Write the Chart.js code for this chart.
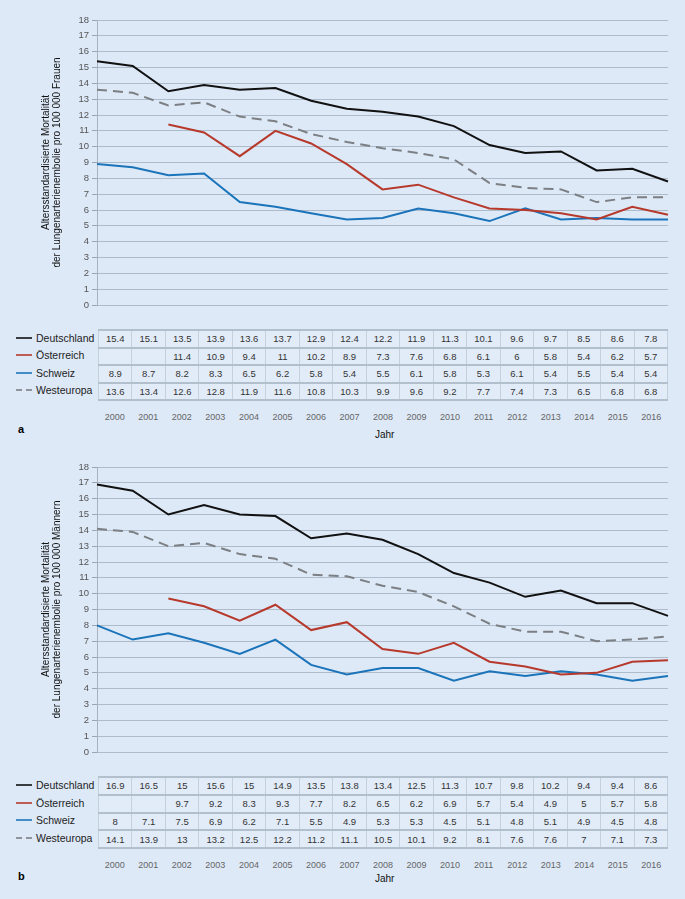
<!DOCTYPE html>
<html>
<head>
<meta charset="utf-8">
<script src="https://cdn.jsdelivr.net/npm/chart.js@4.4.0/dist/chart.umd.min.js"></script>
<style>
  body { margin: 0; background: #dde9f7; font-family: "Liberation Sans", Arial, sans-serif; }
  #page { position: relative; width: 685px; height: 899px; overflow: hidden; }
  canvas { position: absolute; left: 0; }
  .tbl { position: absolute; left: 98px; width: 570px; border-collapse: collapse; table-layout: fixed; }
  .tbl td { padding: 0; text-align: center; font-size: 9.5px; color: #333; background: #e2ecf8;
    border-left: 1px solid #c4d0dc; border-right: 1px solid #c4d0dc;
    border-top: 2px solid #b2bfcc; border-bottom: 2px solid #b2bfcc; }
  .years { position: absolute; left: 98px; width: 570px; display: flex; font-size: 9px; color: #666; }
  .years div { flex: 1; text-align: center; }
  .leg { position: absolute; left: 16px; height: 14px; line-height: 14px; font-size: 10.5px; color: #222; display: flex; align-items: center; }
  .leg span.s { display: inline-block; width: 16px; height: 0; margin-right: 4px; }
  .lbl { position: absolute; font-size: 10px; color: #111; }
  .letter { position: absolute; left: 18px; font-size: 11px; font-weight: bold; color: #000; }
</style>
</head>
<body>
<div id="page"></div>
<script>
const years = ['2000','2001','2002','2003','2004','2005','2006','2007','2008','2009','2010','2011','2012','2013','2014','2015','2016'];
const seriesNames = ['Deutschland', 'Österreich', 'Schweiz', 'Westeuropa'];
const yTicks = [0,1,2,3,4,5,6,7,8,9,10,11,12,13,14,15,16,17,18];

// a: Frauen
const frauenDeutschland = [15.4,15.1,13.5,13.9,13.6,13.7,12.9,12.4,12.2,11.9,11.3,10.1,9.6,9.7,8.5,8.6,7.8];
const frauenOesterreich = [null,null,11.4,10.9,9.4,11,10.2,8.9,7.3,7.6,6.8,6.1,6,5.8,5.4,6.2,5.7];
const frauenSchweiz = [8.9,8.7,8.2,8.3,6.5,6.2,5.8,5.4,5.5,6.1,5.8,5.3,6.1,5.4,5.5,5.4,5.4];
const frauenWesteuropa = [13.6,13.4,12.6,12.8,11.9,11.6,10.8,10.3,9.9,9.6,9.2,7.7,7.4,7.3,6.5,6.8,6.8];

// b: Männer
const maennerDeutschland = [16.9,16.5,15,15.6,15,14.9,13.5,13.8,13.4,12.5,11.3,10.7,9.8,10.2,9.4,9.4,8.6];
const maennerOesterreich = [null,null,9.7,9.2,8.3,9.3,7.7,8.2,6.5,6.2,6.9,5.7,5.4,4.9,5,5.7,5.8];
const maennerSchweiz = [8,7.1,7.5,6.9,6.2,7.1,5.5,4.9,5.3,5.3,4.5,5.1,4.8,5.1,4.9,4.5,4.8];
const maennerWesteuropa = [14.1,13.9,13,13.2,12.5,12.2,11.2,11.1,10.5,10.1,9.2,8.1,7.6,7.6,7,7.1,7.3];

const styles = [
  { color: '#111111', dash: [] },
  { color: '#b7392c', dash: [] },
  { color: '#1b74ba', dash: [] },
  { color: '#7c7f83', dash: [10, 6] },
];

const panels = [
  { letter: 'a', top: 0, tableTop: 329, rowH: 17.5, yearsY: 412, jahrY: 429, letterY: 423,
    title: ['Altersstandardisierte Mortalität', 'der Lungenarterienembolie pro 100 000 Frauen'],
    data: [frauenDeutschland, frauenOesterreich, frauenSchweiz, frauenWesteuropa] },
  { letter: 'b', top: 447, tableTop: 776, rowH: 17.75, yearsY: 860, jahrY: 873, letterY: 870,
    title: ['Altersstandardisierte Mortalität', 'der Lungenarterienembolie pro 100 000 Männern'],
    data: [maennerDeutschland, maennerOesterreich, maennerSchweiz, maennerWesteuropa] },
];

const page = document.getElementById('page');

panels.forEach(p => {
  const canvas = document.createElement('canvas');
  canvas.width = 685;
  canvas.height = 320;
  canvas.style.top = p.top + 'px';
  page.appendChild(canvas);

  new Chart(canvas.getContext('2d'), {
    type: 'line',
    data: {
      labels: years,
      datasets: p.data.map((d, i) => ({
        label: seriesNames[i],
        data: d,
        borderColor: styles[i].color,
        borderDash: styles[i].dash,
        borderWidth: 2,
        pointRadius: 0,
        tension: 0,
        fill: false,
        spanGaps: false,
      })),
    },
    options: {
      responsive: false,
      animation: false,
      layout: { padding: { left: 37, right: 17, top: 20, bottom: 15 } },
      plugins: { legend: { display: false }, tooltip: { enabled: false } },
      scales: {
        x: { display: false, offset: false },
        y: {
          min: 0,
          max: 18,
          afterFit: scale => { scale.width = 60; },
          afterBuildTicks: scale => { scale.ticks = yTicks.map(v => ({ value: v })); },
          ticks: { color: '#555', font: { family: 'Liberation Sans', size: 9.5 }, padding: 3 },
          grid: { color: '#adbbca', lineWidth: 1, tickLength: 5, tickColor: '#9aa6b2' },
          border: { color: '#a7b3bf', width: 1 },
          title: {
            display: true,
            text: p.title,
            color: '#111',
            font: { family: 'Liberation Sans', size: 10, lineHeight: 1.1 },
            padding: { top: 4, bottom: 4 },
          },
        },
      },
    },
  });

  // data table below the chart
  const tbl = document.createElement('table');
  tbl.className = 'tbl';
  tbl.style.top = p.tableTop + 'px';
  p.data.forEach(d => {
    const tr = document.createElement('tr');
    tr.style.height = p.rowH + 'px';
    d.forEach(v => {
      const td = document.createElement('td');
      td.textContent = v === null ? '' : String(v);
      tr.appendChild(td);
    });
    tbl.appendChild(tr);
  });
  page.appendChild(tbl);

  // legend keys in front of the rows
  seriesNames.forEach((name, i) => {
    const leg = document.createElement('div');
    leg.className = 'leg';
    leg.style.top = (p.tableTop + p.rowH * i + p.rowH / 2 - 7) + 'px';
    const s = document.createElement('span');
    s.className = 's';
    s.style.borderTop = '2px ' + (styles[i].dash.length ? 'dashed ' : 'solid ') + styles[i].color;
    s.style.opacity = '0.8';
    leg.appendChild(s);
    leg.appendChild(document.createTextNode(name));
    page.appendChild(leg);
  });

  const yr = document.createElement('div');
  yr.className = 'years';
  yr.style.top = p.yearsY + 'px';
  years.forEach(y => {
    const c = document.createElement('div');
    c.textContent = y;
    yr.appendChild(c);
  });
  page.appendChild(yr);

  const jahr = document.createElement('div');
  jahr.className = 'lbl';
  jahr.style.left = '375px';
  jahr.style.top = p.jahrY + 'px';
  jahr.textContent = 'Jahr';
  page.appendChild(jahr);

  const letter = document.createElement('div');
  letter.className = 'letter';
  letter.style.top = p.letterY + 'px';
  letter.textContent = p.letter;
  page.appendChild(letter);
});
</script>
</body>
</html>
